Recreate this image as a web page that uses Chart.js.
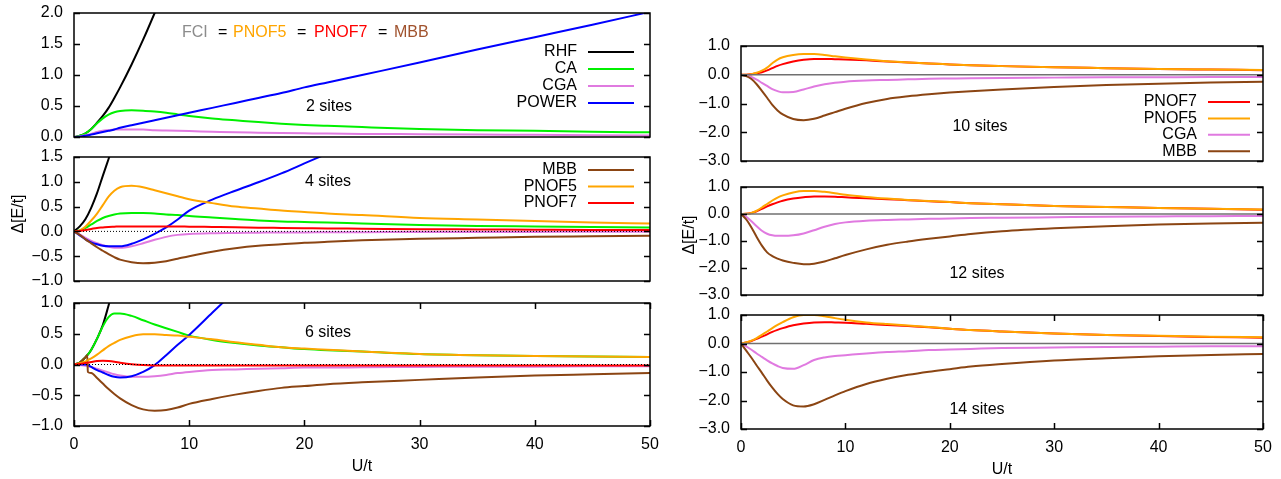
<!DOCTYPE html>
<html>
<head>
<meta charset="utf-8">
<script src="https://cdn.jsdelivr.net/npm/chart.js@4.4.1/dist/chart.umd.min.js"></script>
<style>
  html, body { margin: 0; padding: 0; background: #fff; }
  body { width: 1281px; height: 479px; position: relative; overflow: hidden; }
  canvas { position: absolute; }
</style>
</head>
<body>
<canvas id="s2"></canvas>
<canvas id="s4"></canvas>
<canvas id="s6"></canvas>
<canvas id="s10"></canvas>
<canvas id="s12"></canvas>
<canvas id="s14"></canvas>
<script>
// U/t grids
const U = [0, 0.5, 1, 1.5, 2, 2.5, 3, 3.5, 4, 5, 6, 7, 8, 9, 10, 12, 14, 16, 18, 20, 22, 25, 30, 35, 40, 45, 50];
const U6 = [0, 0.5, 1, 1.15, 1.2, 1.5, 2, 2.5, 3, 3.5, 4, 5, 6, 7, 8, 9, 10, 12, 14, 16, 18, 20, 22, 25, 30, 35, 40, 45, 50];

// 2 sites
const rhf2 = [0, 0.02, 0.06, 0.13, 0.23, 0.34, 0.47, 0.63, 0.8, 1.17, 1.57, 2.0, 2.45];
const ca2 = [0, 0.02, 0.06, 0.13, 0.22, 0.3, 0.36, 0.4, 0.42, 0.43, 0.425, 0.41, 0.39, 0.365, 0.34, 0.3, 0.27, 0.24, 0.215, 0.195, 0.18, 0.16, 0.13, 0.11, 0.1, 0.085, 0.075];
const cga2 = [0, 0.01, 0.03, 0.05, 0.08, 0.1, 0.11, 0.12, 0.12, 0.12, 0.12, 0.11, 0.105, 0.1, 0.095, 0.085, 0.075, 0.07, 0.065, 0.06, 0.055, 0.05, 0.045, 0.04, 0.035, 0.03, 0.025];
const power2 = [0, 0.005, 0.02, 0.04, 0.06, 0.08, 0.1, 0.12, 0.15, 0.19, 0.23, 0.27, 0.31, 0.35, 0.39, 0.47, 0.55, 0.63, 0.71, 0.8, 0.88, 1.0, 1.2, 1.41, 1.61, 1.81, 2.02];

// 4 sites
const rhf4 = [0, 0.1, 0.25, 0.48, 0.77, 1.12, 1.46, 1.8, 2.1];
const ca4 = [0, 0.02, 0.07, 0.14, 0.21, 0.27, 0.31, 0.34, 0.36, 0.37, 0.37, 0.36, 0.34, 0.33, 0.31, 0.28, 0.25, 0.22, 0.2, 0.19, 0.18, 0.16, 0.13, 0.11, 0.1, 0.09, 0.08];
const cga4 = [0, -0.06, -0.13, -0.19, -0.24, -0.28, -0.31, -0.33, -0.33, -0.3, -0.24, -0.17, -0.11, -0.07, -0.05, -0.035, -0.03, -0.025, -0.02, -0.02, -0.015, -0.015, -0.01, -0.01, -0.01, -0.005, -0.005];
const power4 = [0, -0.08, -0.16, -0.22, -0.26, -0.29, -0.3, -0.3, -0.3, -0.25, -0.16, -0.05, 0.08, 0.24, 0.42, 0.64, 0.82, 0.99, 1.17, 1.37, 1.57, 1.87];
const mbb4 = [0, -0.07, -0.16, -0.24, -0.32, -0.39, -0.46, -0.52, -0.57, -0.62, -0.64, -0.63, -0.6, -0.55, -0.5, -0.41, -0.34, -0.29, -0.26, -0.23, -0.21, -0.18, -0.15, -0.13, -0.11, -0.1, -0.09];
const pnof5_4 = [0, 0.02, 0.1, 0.22, 0.36, 0.53, 0.7, 0.82, 0.89, 0.92, 0.89, 0.83, 0.77, 0.71, 0.65, 0.57, 0.5, 0.46, 0.42, 0.39, 0.36, 0.33, 0.27, 0.24, 0.21, 0.18, 0.16];
const pnof7_4 = [0, 0.01, 0.03, 0.05, 0.07, 0.08, 0.09, 0.095, 0.1, 0.1, 0.1, 0.1, 0.1, 0.1, 0.095, 0.09, 0.085, 0.075, 0.07, 0.065, 0.06, 0.055, 0.045, 0.04, 0.035, 0.03, 0.03];

// 6 sites (on U6)
const rhf6 = [0, 0.03, 0.12, 0.15, 0.16, 0.24, 0.42, 0.64, 0.96, 1.3];
const ca6 = [0, 0.03, 0.12, 0.15, 0.16, 0.24, 0.42, 0.62, 0.77, 0.83, 0.83, 0.79, 0.72, 0.65, 0.59, 0.53, 0.47, 0.4, 0.35, 0.31, 0.28, 0.25, 0.23, 0.21, 0.17, 0.15, 0.14, 0.13, 0.12];
const cga6 = [0, -0.01, -0.02, -0.025, -0.03, -0.04, -0.07, -0.1, -0.13, -0.16, -0.18, -0.2, -0.2, -0.19, -0.17, -0.14, -0.12, -0.09, -0.08, -0.07, -0.06, -0.05, -0.05, -0.045, -0.04, -0.035, -0.035, -0.03, -0.03];
const power6 = [0, 0, 0, -0.005, -0.01, -0.04, -0.09, -0.13, -0.17, -0.2, -0.21, -0.19, -0.12, -0.01, 0.15, 0.32, 0.48, 0.84, 1.2];
const mbb6 = [0, 0.03, 0.12, 0.15, -0.12, -0.14, -0.22, -0.31, -0.4, -0.48, -0.55, -0.66, -0.73, -0.75, -0.74, -0.7, -0.64, -0.56, -0.49, -0.43, -0.38, -0.35, -0.32, -0.29, -0.25, -0.21, -0.18, -0.16, -0.14];
const pnof5_6 = [0, 0.02, 0.05, 0.06, 0.07, 0.1, 0.16, 0.23, 0.3, 0.35, 0.4, 0.46, 0.49, 0.49, 0.48, 0.47, 0.45, 0.41, 0.36, 0.32, 0.28, 0.26, 0.24, 0.21, 0.17, 0.15, 0.14, 0.13, 0.12];
const pnof7_6 = [0, 0.01, 0.025, 0.03, 0.03, 0.04, 0.055, 0.06, 0.055, 0.045, 0.03, 0.005, -0.01, -0.015, -0.015, -0.015, -0.015, -0.015, -0.015, -0.015, -0.015, -0.015, -0.015, -0.015, -0.015, -0.015, -0.015, -0.015, -0.015];

// 10 sites
const pnof5_10 = [0, 0, 0.02, 0.07, 0.14, 0.25, 0.4, 0.53, 0.61, 0.69, 0.72, 0.72, 0.69, 0.64, 0.6, 0.53, 0.47, 0.43, 0.39, 0.36, 0.33, 0.3, 0.26, 0.23, 0.2, 0.18, 0.165];
const pnof7_10 = [0, 0, 0.02, 0.05, 0.09, 0.15, 0.23, 0.31, 0.37, 0.46, 0.52, 0.55, 0.55, 0.54, 0.53, 0.5, 0.46, 0.43, 0.39, 0.36, 0.33, 0.3, 0.26, 0.23, 0.2, 0.18, 0.16];
const cga10 = [0, -0.03, -0.08, -0.17, -0.28, -0.39, -0.5, -0.57, -0.61, -0.6, -0.51, -0.41, -0.33, -0.28, -0.24, -0.2, -0.18, -0.16, -0.14, -0.13, -0.12, -0.11, -0.1, -0.09, -0.085, -0.08, -0.08];
const mbb10 = [0, -0.05, -0.15, -0.33, -0.56, -0.8, -1.05, -1.24, -1.38, -1.54, -1.58, -1.53, -1.42, -1.3, -1.18, -0.98, -0.84, -0.75, -0.68, -0.62, -0.57, -0.51, -0.43, -0.36, -0.31, -0.27, -0.24];

// 12 sites
const pnof5_12 = [0, 0.01, 0.04, 0.12, 0.24, 0.37, 0.5, 0.61, 0.69, 0.8, 0.85, 0.85, 0.82, 0.77, 0.71, 0.63, 0.57, 0.52, 0.48, 0.44, 0.4, 0.36, 0.3, 0.26, 0.22, 0.19, 0.17];
const pnof7_12 = [0, 0.01, 0.04, 0.1, 0.19, 0.28, 0.36, 0.43, 0.49, 0.57, 0.62, 0.65, 0.65, 0.64, 0.62, 0.58, 0.55, 0.51, 0.47, 0.44, 0.4, 0.36, 0.3, 0.26, 0.22, 0.19, 0.16];
const cga12 = [0, -0.1, -0.27, -0.45, -0.62, -0.73, -0.79, -0.81, -0.81, -0.79, -0.72, -0.6, -0.47, -0.37, -0.31, -0.25, -0.22, -0.2, -0.18, -0.17, -0.15, -0.14, -0.12, -0.1, -0.09, -0.08, -0.07];
const mbb12 = [0, -0.2, -0.5, -0.85, -1.17, -1.42, -1.56, -1.65, -1.72, -1.81, -1.86, -1.84, -1.76, -1.64, -1.52, -1.31, -1.14, -1.02, -0.92, -0.83, -0.74, -0.64, -0.53, -0.45, -0.39, -0.35, -0.32];

// 14 sites
const pnof5_14 = [0, 0.04, 0.1, 0.19, 0.3, 0.42, 0.54, 0.65, 0.75, 0.92, 1.0, 1.0, 0.96, 0.89, 0.83, 0.74, 0.68, 0.63, 0.58, 0.52, 0.47, 0.42, 0.35, 0.3, 0.27, 0.24, 0.22];
const pnof7_14 = [0, 0.04, 0.09, 0.16, 0.24, 0.32, 0.41, 0.48, 0.54, 0.64, 0.7, 0.74, 0.75, 0.74, 0.73, 0.69, 0.65, 0.61, 0.57, 0.52, 0.47, 0.42, 0.35, 0.3, 0.26, 0.23, 0.2];
const cga14 = [0, -0.1, -0.22, -0.35, -0.47, -0.59, -0.7, -0.79, -0.86, -0.89, -0.76, -0.58, -0.49, -0.44, -0.41, -0.35, -0.3, -0.27, -0.23, -0.21, -0.19, -0.16, -0.14, -0.12, -0.11, -0.1, -0.1];
const mbb14 = [0, -0.25, -0.5, -0.77, -1.03, -1.3, -1.55, -1.77, -1.95, -2.17, -2.21, -2.13, -1.98, -1.82, -1.67, -1.42, -1.24, -1.1, -0.99, -0.9, -0.81, -0.72, -0.6, -0.52, -0.45, -0.4, -0.37];

const COL = {
  RHF: "#000000", CA: "#00f000", CGA: "#e07ae0", POWER: "#0000ff",
  PNOF5: "#ffa500", PNOF7: "#ff0000", MBB: "#8b4513"
};
const FONT = "'Liberation Sans', Arial, Helvetica, sans-serif";
Chart.defaults.font.family = FONT;
Chart.defaults.font.size = 16;
Chart.defaults.color = "#000";

const ML = 70, MR = 16, MT = 12, MB = 12, MB_AXIS = 54;

function fmtY(v) {
  return (v < 0 ? "\u2212" : "") + Math.abs(v).toFixed(1);
}

function line(name, grid, vals) {
  return {
    label: name,
    data: vals.map((v, i) => ({ x: grid[i], y: v })),
    borderColor: COL[name],
    borderWidth: 2,
    pointRadius: 0,
    fill: false,
    cubicInterpolationMode: "monotone"
  };
}

// frame, inward ticks, zero line, key, labels
const panelPlugin = {
  id: "panel",
  afterDatasetsDraw(chart, args, o) {
    const { ctx, chartArea: a } = chart;
    const x = chart.scales.x, y = chart.scales.y;
    ctx.save();
    if (o.zero) {
      const yz = y.getPixelForValue(0);
      ctx.beginPath();
      if (o.zero === "dotted") {
        ctx.setLineDash([1, 2]);
        ctx.strokeStyle = "#000";
        ctx.lineWidth = 1;
      } else {
        ctx.strokeStyle = "#707070";
        ctx.lineWidth = 1.5;
      }
      ctx.moveTo(a.left, yz);
      ctx.lineTo(a.right, yz);
      ctx.stroke();
      ctx.setLineDash([]);
    }
    ctx.strokeStyle = "#000";
    ctx.lineWidth = 1.5;
    ctx.strokeRect(a.left, a.top, a.right - a.left, a.bottom - a.top);
    ctx.beginPath();
    y.ticks.forEach(t => {
      const py = Math.round(y.getPixelForValue(t.value)) + 0.5;
      ctx.moveTo(a.left, py); ctx.lineTo(a.left + 6, py);
      ctx.moveTo(a.right - 6, py); ctx.lineTo(a.right, py);
    });
    if (o.xtics) {
      x.ticks.forEach(t => {
        const px = Math.round(x.getPixelForValue(t.value)) + 0.5;
        ctx.moveTo(px, a.bottom); ctx.lineTo(px, a.bottom - 6);
        ctx.moveTo(px, a.top); ctx.lineTo(px, a.top + 6);
      });
    }
    ctx.stroke();

    ctx.font = "16px " + FONT;
    ctx.textBaseline = "middle";
    if (o.key) {
      const k = o.key;
      k.items.forEach((name, i) => {
        const py = a.top + k.top + i * k.step;
        ctx.fillStyle = "#000";
        ctx.textAlign = "right";
        ctx.fillText(name, a.right + k.text, py);
        ctx.beginPath();
        ctx.strokeStyle = COL[name];
        ctx.lineWidth = 2;
        ctx.moveTo(a.right + k.from, py);
        ctx.lineTo(a.right + k.to, py);
        ctx.stroke();
      });
    }
    (o.notes || []).forEach(n => {
      ctx.fillStyle = n.color || "#000";
      ctx.textAlign = n.align || "center";
      ctx.fillText(n.text, a.left + n.dx, a.top + n.dy);
    });
    if (o.ylabel) {
      ctx.save();
      ctx.translate(a.left + o.ylabel.dx, a.top + o.ylabel.dy);
      ctx.rotate(-Math.PI / 2);
      ctx.fillStyle = "#000";
      ctx.textAlign = "center";
      ctx.fillText("\u0394[E/t]", 0, 0);
      ctx.restore();
    }
    if (o.xlabel) {
      ctx.fillStyle = "#000";
      ctx.textAlign = "center";
      ctx.fillText("U/t", (a.left + a.right) / 2, a.bottom + 41);
    }
    ctx.restore();
  }
};

function makePanel(id, box, yr, datasets, extra) {
  const bottom = !!extra.bottom;
  const mb = bottom ? MB_AXIS : MB;
  const cv = document.getElementById(id);
  cv.width = box.w + ML + MR;
  cv.height = box.h + MT + mb;
  cv.style.left = (box.l - ML) + "px";
  cv.style.top = (box.t - MT) + "px";
  new Chart(cv, {
    type: "line",
    data: { datasets },
    options: {
      responsive: false,
      animation: false,
      events: [],
      layout: { padding: { left: 0, top: MT, right: MR, bottom: bottom ? 0 : mb } },
      plugins: {
        legend: { display: false },
        tooltip: { enabled: false },
        panel: extra
      },
      scales: {
        x: {
          type: "linear", min: 0, max: 50,
          display: bottom,
          grid: { display: false, drawTicks: false },
          border: { display: false },
          ticks: { stepSize: 10, padding: 9, maxRotation: 0 },
          afterFit(s) { s.height = bottom ? mb : 0; s.paddingLeft = 0; s.paddingRight = 0; }
        },
        y: {
          min: yr[0], max: yr[1],
          grid: { display: false, drawTicks: false },
          border: { display: false },
          ticks: { stepSize: yr[2], padding: 11, callback: fmtY },
          afterFit(s) { s.width = ML; s.paddingTop = 0; s.paddingBottom = 0; }
        }
      }
    },
    plugins: [panelPlugin]
  });
}

const KEY_L = { text: -73, from: -62, to: -16 };
const KEY_R = { text: -66, from: -55, to: -13 };

makePanel("s2", { l: 74, t: 13, w: 576, h: 124 }, [0, 2, 0.5], [
  line("POWER", U, power2), line("CGA", U, cga2), line("CA", U, ca2), line("RHF", U, rhf2)
], {
  key: Object.assign({ items: ["RHF", "CA", "CGA", "POWER"], top: 39, step: 17 }, KEY_L),
  notes: [
    { text: "2 sites", dx: 255, dy: 94 },
    { text: "FCI", dx: 108, dy: 20, color: "#8c8c8c", align: "left" },
    { text: "=", dx: 144, dy: 20, align: "left" },
    { text: "PNOF5", dx: 159, dy: 20, color: COL.PNOF5, align: "left" },
    { text: "=", dx: 223, dy: 20, align: "left" },
    { text: "PNOF7", dx: 240, dy: 20, color: COL.PNOF7, align: "left" },
    { text: "=", dx: 304, dy: 20, align: "left" },
    { text: "MBB", dx: 320, dy: 20, color: "#a0522d", align: "left" }
  ]
});

makePanel("s4", { l: 74, t: 157, w: 576, h: 124 }, [-1, 1.5, 0.5], [
  line("PNOF7", U, pnof7_4), line("PNOF5", U, pnof5_4), line("MBB", U, mbb4),
  line("POWER", U, power4), line("CGA", U, cga4), line("CA", U, ca4), line("RHF", U, rhf4)
], {
  zero: "dotted",
  key: Object.assign({ items: ["MBB", "PNOF5", "PNOF7"], top: 13, step: 16.5 }, KEY_L),
  notes: [{ text: "4 sites", dx: 254, dy: 25 }],
  ylabel: { dx: -55.5, dy: 57 }
});

makePanel("s6", { l: 74, t: 303, w: 576, h: 123 }, [-1, 1, 0.5], [
  line("PNOF7", U6, pnof7_6), line("PNOF5", U6, pnof5_6), line("MBB", U6, mbb6),
  line("POWER", U6, power6), line("CGA", U6, cga6), line("CA", U6, ca6), line("RHF", U6, rhf6)
], {
  bottom: true, xtics: true, xlabel: true, zero: "dotted",
  notes: [{ text: "6 sites", dx: 254, dy: 30 }]
});

makePanel("s10", { l: 741, t: 46, w: 522, h: 115 }, [-3, 1, 1], [
  line("MBB", U, mbb10), line("CGA", U, cga10), line("PNOF5", U, pnof5_10), line("PNOF7", U, pnof7_10)
], {
  zero: "gray",
  key: Object.assign({ items: ["PNOF7", "PNOF5", "CGA", "MBB"], top: 56, step: 16.4 }, KEY_R),
  notes: [{ text: "10 sites", dx: 239, dy: 81 }]
});

makePanel("s12", { l: 741, t: 187, w: 522, h: 108 }, [-3, 1, 1], [
  line("MBB", U, mbb12), line("CGA", U, cga12), line("PNOF5", U, pnof5_12), line("PNOF7", U, pnof7_12)
], {
  zero: "gray",
  notes: [{ text: "12 sites", dx: 236, dy: 87 }],
  ylabel: { dx: -51, dy: 48 }
});

makePanel("s14", { l: 741, t: 315, w: 522, h: 114 }, [-3, 1, 1], [
  line("MBB", U, mbb14), line("CGA", U, cga14), line("PNOF5", U, pnof5_14), line("PNOF7", U, pnof7_14)
], {
  bottom: true, xtics: true, xlabel: true, zero: "gray",
  notes: [{ text: "14 sites", dx: 236, dy: 95 }]
});
</script>
</body>
</html>
